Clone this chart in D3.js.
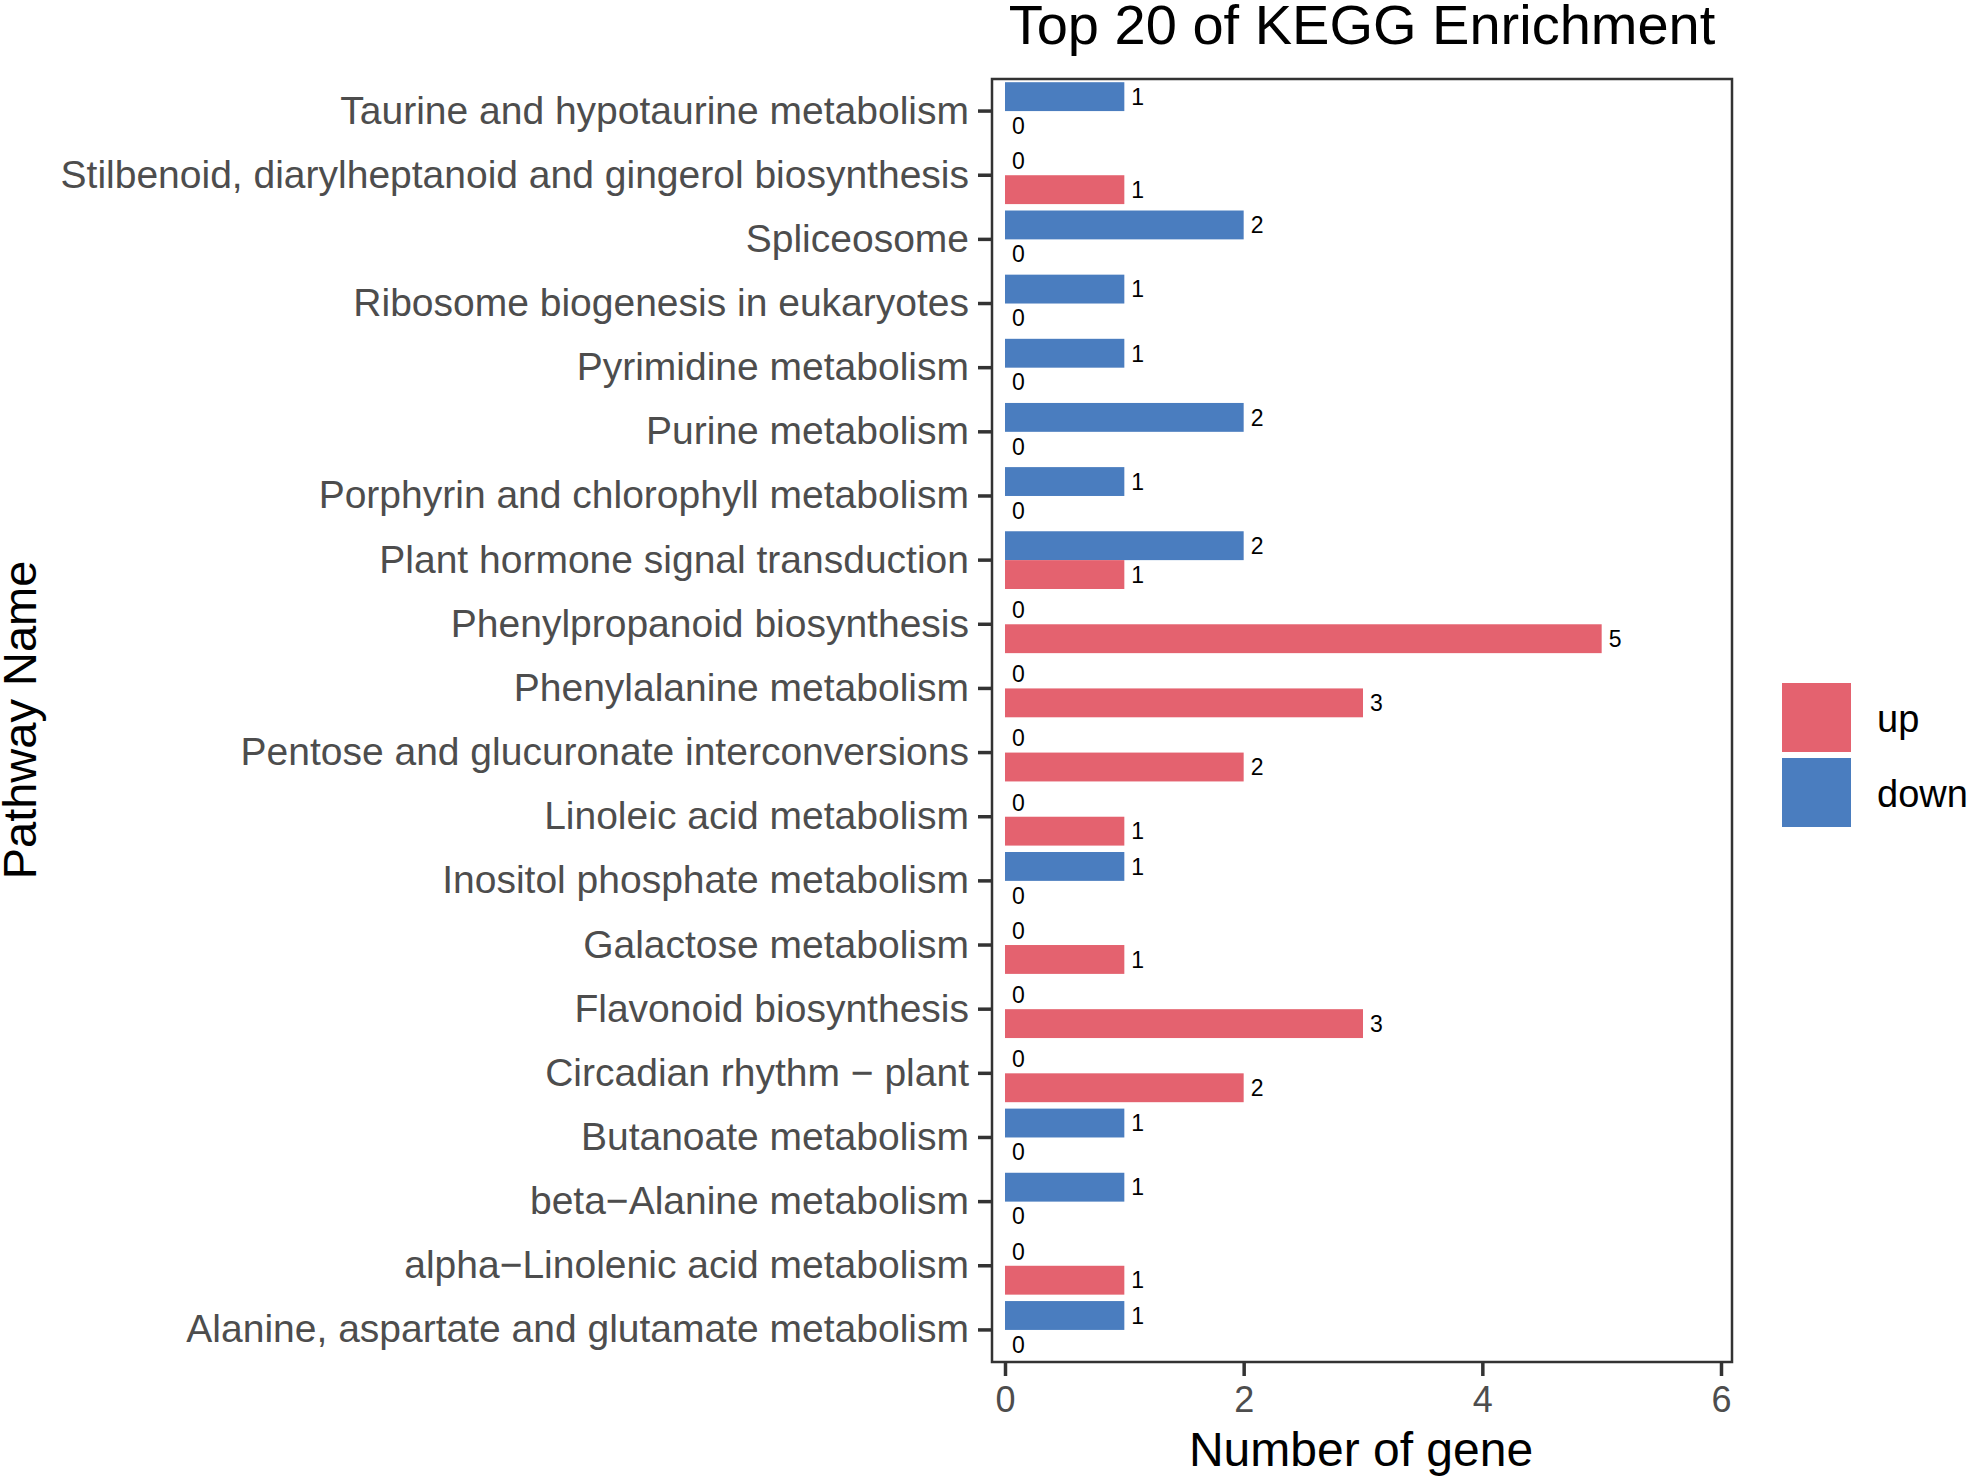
<!DOCTYPE html>
<html>
<head>
<meta charset="utf-8">
<script src="https://cdn.jsdelivr.net/npm/d3@7"></script>
<style>
  html, body { margin: 0; padding: 0; background: #fff; overflow: hidden; }
  text { font-family: "Liberation Sans", Arial, Helvetica, sans-serif; }
</style>
</head>
<body>
<div id="chart"></div>
<script>
// pathways, top to bottom as drawn
var pathways = [
    "Taurine and hypotaurine metabolism",
    "Stilbenoid, diarylheptanoid and gingerol biosynthesis",
    "Spliceosome",
    "Ribosome biogenesis in eukaryotes",
    "Pyrimidine metabolism",
    "Purine metabolism",
    "Porphyrin and chlorophyll metabolism",
    "Plant hormone signal transduction",
    "Phenylpropanoid biosynthesis",
    "Phenylalanine metabolism",
    "Pentose and glucuronate interconversions",
    "Linoleic acid metabolism",
    "Inositol phosphate metabolism",
    "Galactose metabolism",
    "Flavonoid biosynthesis",
    "Circadian rhythm \u2212 plant",
    "Butanoate metabolism",
    "beta\u2212Alanine metabolism",
    "alpha\u2212Linolenic acid metabolism",
    "Alanine, aspartate and glutamate metabolism"
];
var downCounts = [1, 0, 2, 1, 1, 2, 1, 2, 0, 0, 0, 0, 1, 0, 0, 0, 1, 1, 0, 1];
var upCounts   = [0, 1, 0, 0, 0, 0, 0, 1, 5, 3, 2, 1, 0, 1, 3, 2, 0, 0, 1, 0];
var xTicks = [0, 2, 4, 6];
var groups = ["up", "down"];

var width = 1969, height = 1481;
var panel = {left: 992, right: 1732, top: 79, bottom: 1362};
var colors = {up: "#E4626F", down: "#4A7DBF"};

var svg = d3.select("#chart").append("svg")
    .attr("width", width)
    .attr("height", height);

// x: 0 sits a little inside the panel border, 6 near the right edge
var x = d3.scaleLinear()
    .domain([0, 6])
    .range([1005, 1721]);

var y = d3.scaleBand()
    .domain(pathways)
    .range([panel.top, panel.bottom]);

var barH = y.bandwidth() * 0.45;

// flatten into one row per bar
var rows = [];
pathways.forEach(function(p, i) {
    rows.push({path: p, group: "down", value: downCounts[i]});
    rows.push({path: p, group: "up", value: upCounts[i]});
});

function barTop(d) {
    var c = y(d.path) + y.bandwidth() / 2;
    return d.group === "down" ? c - barH : c;
}

var g = svg.append("g");

g.selectAll("rect.bar")
    .data(rows)
    .enter().append("rect")
    .attr("class", "bar")
    .attr("x", x(0))
    .attr("y", barTop)
    .attr("width", function(d) { return x(d.value) - x(0); })
    .attr("height", barH)
    .attr("fill", function(d) { return colors[d.group]; });

// count labels at bar ends
g.selectAll("text.count")
    .data(rows)
    .enter().append("text")
    .attr("class", "count")
    .attr("x", function(d) { return x(d.value) + 7; })
    .attr("y", function(d) { return barTop(d) + barH / 2; })
    .attr("dy", "0.36em")
    .style("font-size", "23px")
    .style("fill", "#000")
    .text(function(d) { return d.value; });

// panel border
svg.append("rect")
    .attr("x", panel.left)
    .attr("y", panel.top)
    .attr("width", panel.right - panel.left)
    .attr("height", panel.bottom - panel.top)
    .attr("fill", "none")
    .attr("stroke", "#333")
    .attr("stroke-width", 2.5);

// y axis
var yAxis = svg.append("g")
    .attr("transform", "translate(" + panel.left + ",0)")
    .call(d3.axisLeft(y).tickSize(14).tickPadding(9));
yAxis.select(".domain").remove();
yAxis.selectAll(".tick line").attr("stroke", "#333").attr("stroke-width", 3.5);
yAxis.selectAll(".tick text")
    .style("font-size", "39px")
    .style("fill", "#4d4d4d")
    .style("font-family", "'Liberation Sans', Arial, sans-serif");

// x axis
var xAxis = svg.append("g")
    .attr("transform", "translate(0," + panel.bottom + ")")
    .call(d3.axisBottom(x).tickValues(xTicks).tickFormat(d3.format("d")).tickSize(14).tickPadding(10));
xAxis.select(".domain").remove();
xAxis.selectAll(".tick line").attr("stroke", "#333").attr("stroke-width", 3.5);
xAxis.selectAll(".tick text")
    .style("font-size", "36px")
    .style("fill", "#4d4d4d")
    .style("font-family", "'Liberation Sans', Arial, sans-serif");

// titles
svg.append("text")
    .attr("x", (panel.left + panel.right) / 2)
    .attr("y", 44)
    .style("text-anchor", "middle")
    .style("font-size", "56px")
    .text("Top 20 of KEGG Enrichment");

svg.append("text")
    .attr("x", 1361)
    .attr("y", 1466)
    .style("text-anchor", "middle")
    .style("font-size", "48px")
    .text("Number of gene");

svg.append("text")
    .attr("transform", "translate(36,720) rotate(-90)")
    .style("text-anchor", "middle")
    .style("font-size", "47px")
    .text("Pathway Name");

// legend
var legend = svg.append("g").attr("transform", "translate(1782,683)");
var key = legend.selectAll("g.key")
    .data(groups)
    .enter().append("g")
    .attr("class", "key")
    .attr("transform", function(d, i) { return "translate(0," + (i * 75) + ")"; });
key.append("rect")
    .attr("width", 69)
    .attr("height", 69)
    .attr("fill", function(d) { return colors[d]; });
key.append("text")
    .attr("x", 95)
    .attr("y", 35)
    .attr("dy", "0.36em")
    .style("font-size", "38px")
    .text(function(d) { return d; });
</script>
</body>
</html>
